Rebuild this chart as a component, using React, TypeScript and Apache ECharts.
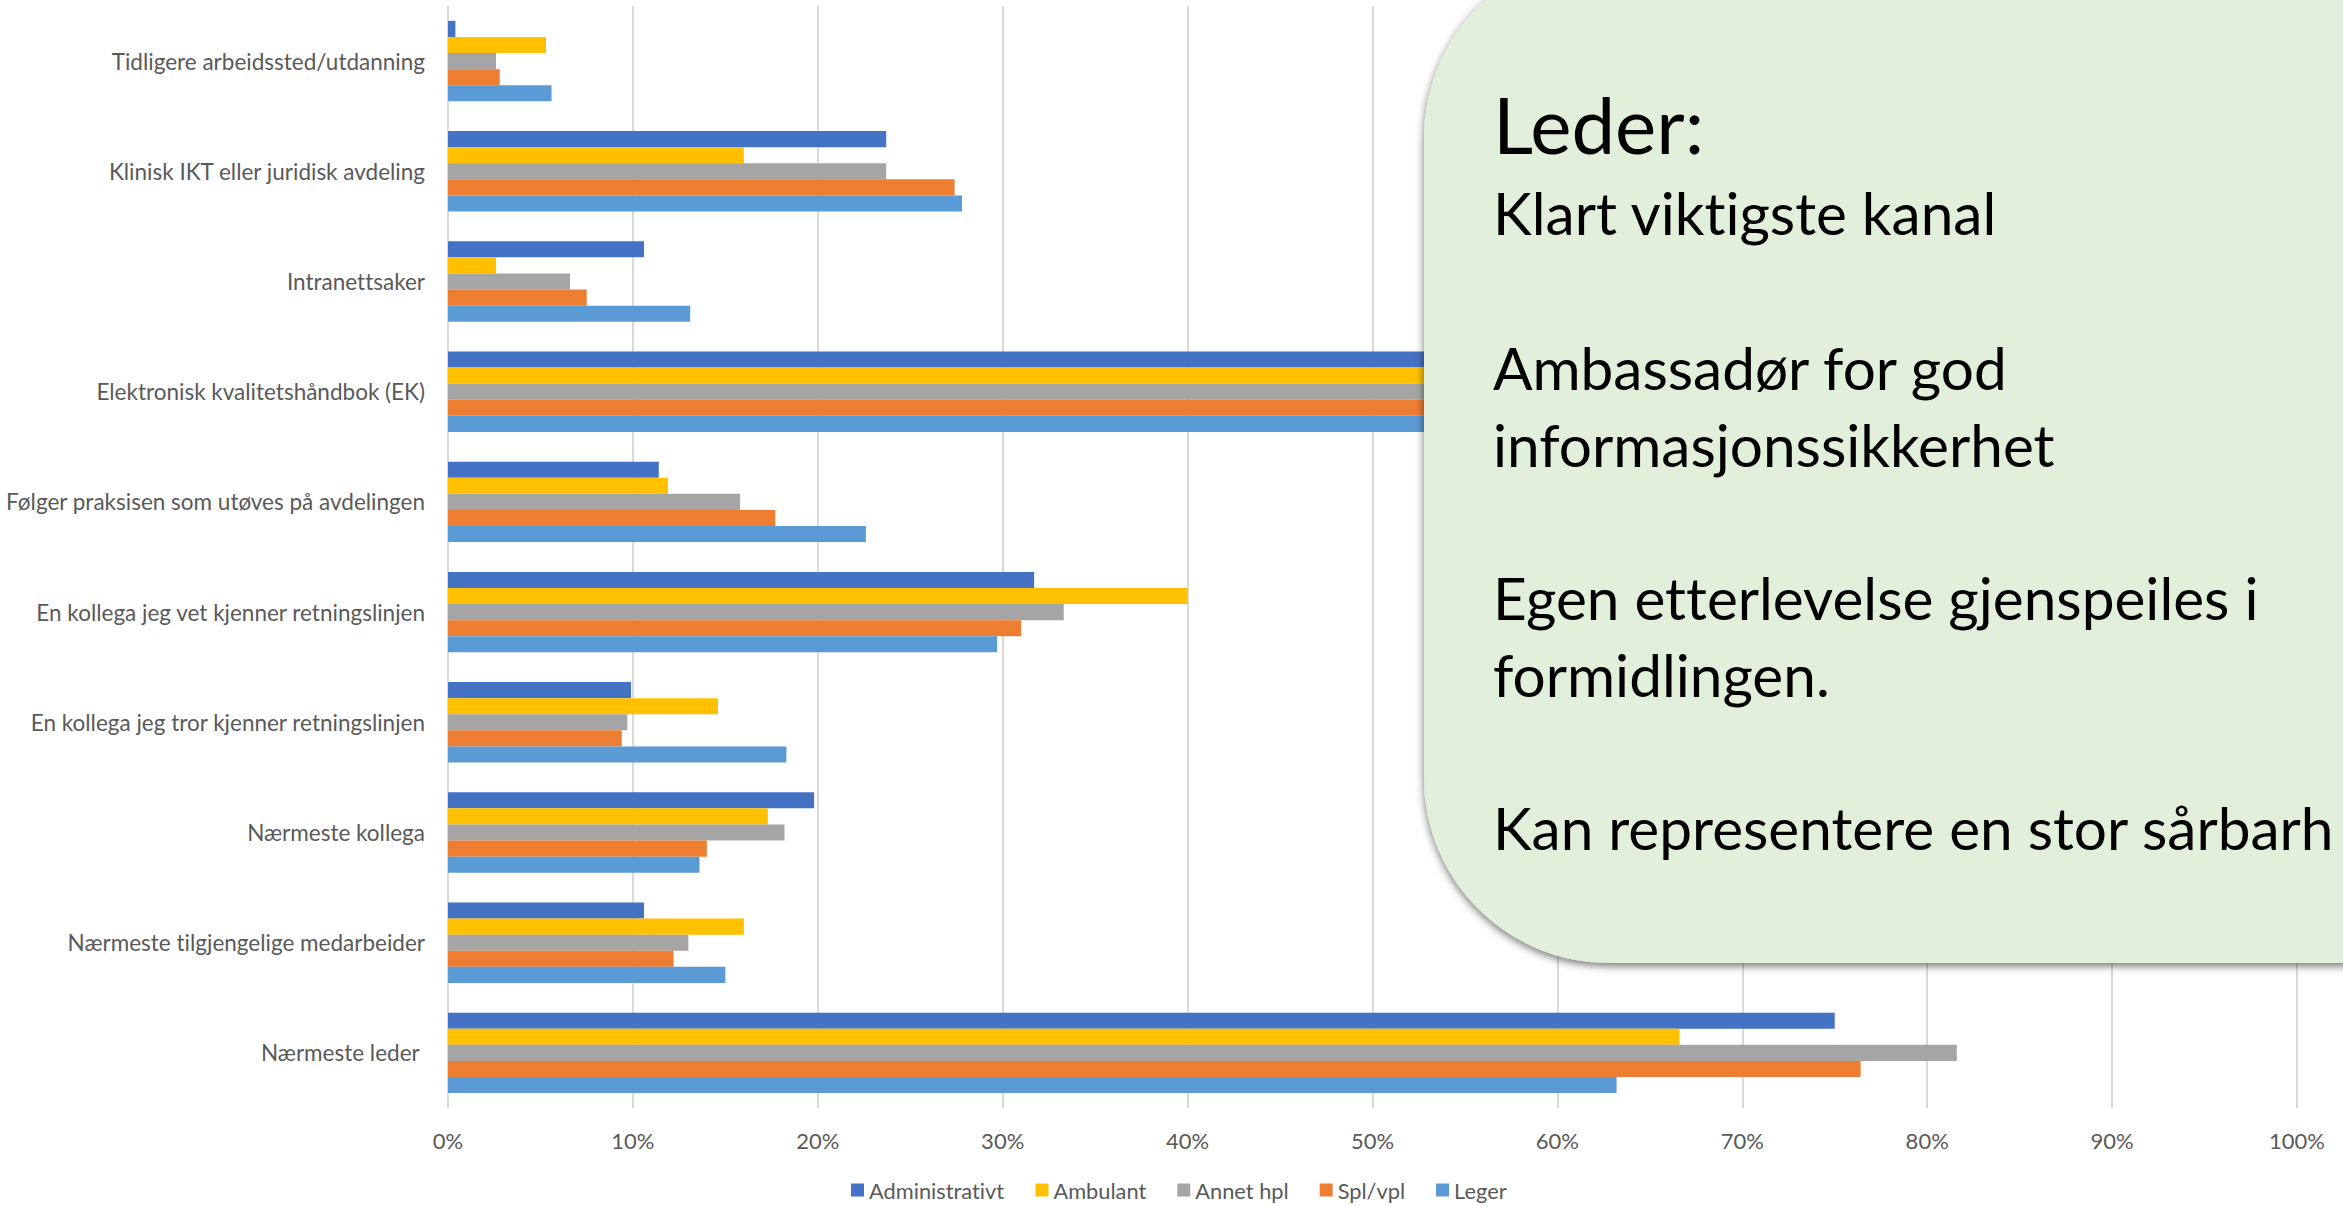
import React, { useEffect, useRef } from "react";
import * as echarts from "echarts";

const categories = [
  "Tidligere arbeidssted/utdanning",
  "Klinisk IKT eller juridisk avdeling",
  "Intranettsaker",
  "Elektronisk kvalitetshåndbok (EK)",
  "Følger praksisen som utøves på avdelingen",
  "En kollega jeg vet kjenner retningslinjen",
  "En kollega jeg tror kjenner retningslinjen",
  "Nærmeste kollega",
  "Nærmeste tilgjengelige medarbeider",
  "Nærmeste leder ",
];

const seriesNames = ["Administrativt", "Ambulant", "Annet hpl", "Spl/vpl", "Leger"];
const seriesColors = ["#4472C4", "#FFC000", "#A5A5A5", "#ED7D31", "#5B9BD5"];

const administrativt = [0.4, 23.7, 10.6, 62, 11.4, 31.7, 9.9, 19.8, 10.6, 75.0];
const ambulant = [5.3, 16.0, 2.6, 58, 11.9, 40.0, 14.6, 17.3, 16.0, 66.6];
const annetHpl = [2.6, 23.7, 6.6, 60, 15.8, 33.3, 9.7, 18.2, 13.0, 81.6];
const splVpl = [2.8, 27.4, 7.5, 64, 17.7, 31.0, 9.4, 14.0, 12.2, 76.4];
const leger = [5.6, 27.8, 13.1, 61, 22.6, 29.7, 18.3, 13.6, 15.0, 63.2];

const seriesValues = [administrativt, ambulant, annetHpl, splVpl, leger];

const calloutTitle = "Leder:";
const calloutLines: [string, number][] = [
  ["Klart viktigste kanal", 212],
  ["Ambassadør for god", 367],
  ["informasjonssikkerhet", 444],
  ["Egen etterlevelse gjenspeiles i", 597],
  ["formidlingen.", 674],
  ["Kan representere en stor sårbarh", 827],
];

const FONT = "Lato";

export default function App() {
  const ref = useRef<HTMLDivElement>(null);
  useEffect(() => {
    if (!ref.current) return;
    const chart = echarts.init(ref.current, undefined, { renderer: "svg" });
    const textEls: any[] = [
      {
        type: "text",
        z: 101,
        x: 1493,
        y: 124,
        style: {
          text: calloutTitle,
          fill: "#000000",
          font: `78px ${FONT}`,
          textAlign: "left",
          textVerticalAlign: "middle",
        },
      },
      ...calloutLines.map(([t, y]) => ({
        type: "text",
        z: 101,
        x: 1493,
        y,
        style: {
          text: t,
          fill: "#000000",
          font: `58.5px ${FONT}`,
          textAlign: "left",
          textVerticalAlign: "middle",
        },
      })),
    ];
    chart.setOption({
      animation: false,
      backgroundColor: "#ffffff",
      textStyle: { fontFamily: FONT },
      grid: { left: 448, right: 46, top: 6, bottom: 98, containLabel: false },
      legend: {
        data: seriesNames,
        bottom: 0,
        left: 846,
        itemWidth: 13,
        itemHeight: 13,
        itemGap: 31,
        icon: "rect",
        textStyle: { color: "#595959", fontSize: 21.8, fontFamily: FONT },
      },
      xAxis: {
        type: "value",
        min: 0,
        max: 100,
        interval: 10,
        axisLine: { show: false },
        axisTick: { show: false },
        splitLine: { show: true, lineStyle: { color: "#D9D9D9", width: 2 } },
        axisLabel: {
          formatter: "{value}%",
          color: "#595959",
          fontSize: 22,
          fontFamily: FONT,
          margin: 21,
        },
      },
      yAxis: {
        type: "category",
        data: categories,
        inverse: true,
        axisLine: { show: false },
        axisTick: { show: false },
        splitLine: { show: false },
        axisLabel: {
          color: "#595959",
          fontSize: 22.5,
          fontFamily: FONT,
          margin: 23,
        },
      },
      series: seriesNames.map((name, i) => ({
        name,
        type: "bar",
        data: seriesValues[i],
        barGap: "0%",
        barCategoryGap: "27%",
        itemStyle: { color: seriesColors[i] },
      })),
      graphic: [
        {
          type: "rect",
          z: 100,
          shape: { x: 1424, y: -47, width: 1200, height: 1010, r: 185 },
          style: {
            fill: "#E2EFDA",
            shadowBlur: 8,
            shadowOffsetX: 0,
            shadowOffsetY: 3,
            shadowColor: "rgba(0,0,0,0.55)",
          },
        },
        ...textEls,
      ],
    });
    return () => chart.dispose();
  }, []);
  return (
    <>
      <style>{`svg text, svg tspan { font-variant-ligatures: none !important; font-feature-settings: "liga" 0, "clig" 0 !important; }`}</style>
      <div
        ref={ref}
        style={{
          position: "fixed",
          left: 0,
          top: 0,
          width: 2343,
          height: 1206,
        }}
      />
    </>
  );
}
